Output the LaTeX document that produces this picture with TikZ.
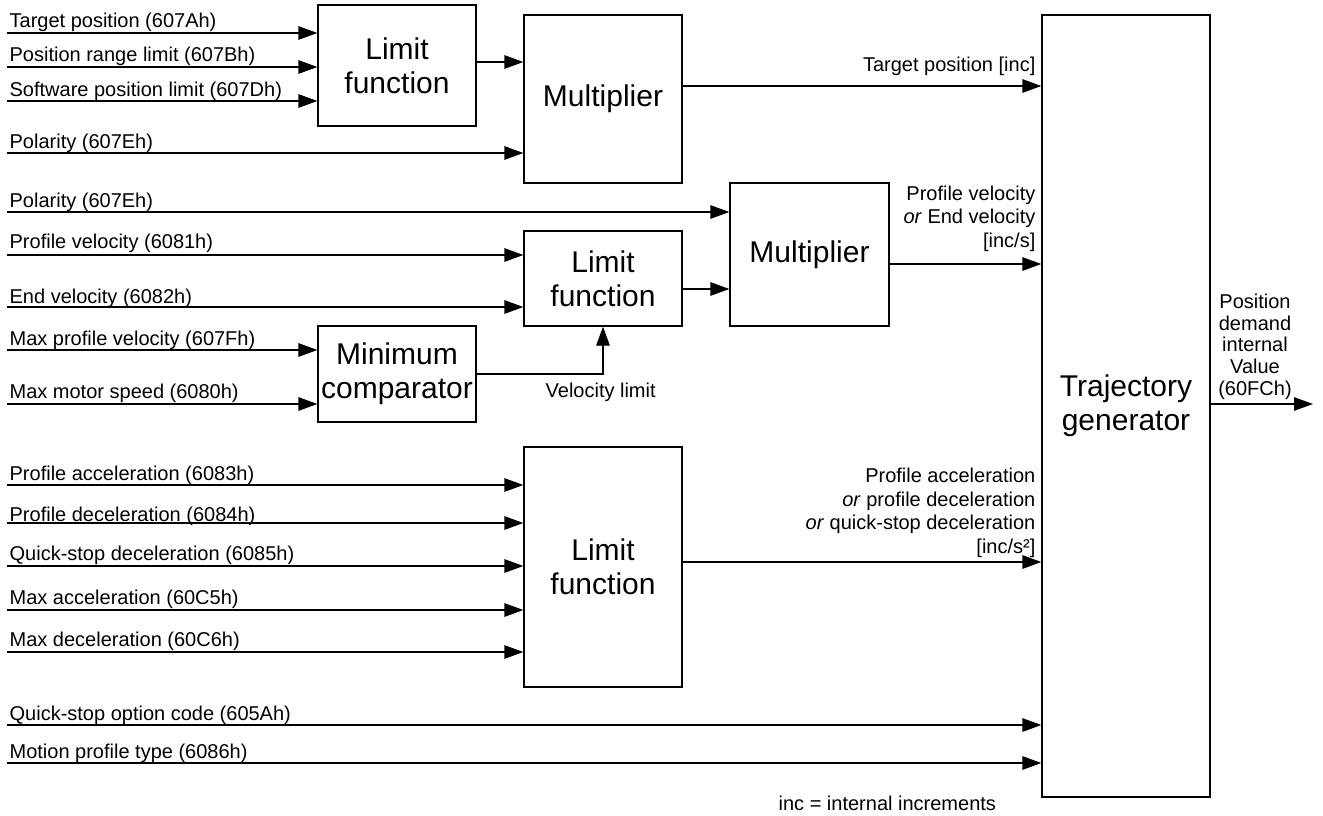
\documentclass[tikz,border=0pt]{standalone}
\usepackage{fontspec}
\setmainfont{Liberation Sans}
\usetikzlibrary{arrows.meta}
\begin{document}
\begin{tikzpicture}[x=1pt,y=-1pt,line width=1.3pt,
  arr/.style={-{Triangle[length=19pt,width=13.5pt]}},
  blk/.style={draw,line width=1.3pt,inner sep=0pt,align=center,font=\fontsize{30}{34}\selectfont},
  lbl/.style={inner sep=0pt,font=\fontsize{20}{23}\selectfont,anchor=base west},
  rlbl/.style={inner sep=0pt,font=\fontsize{20}{23.4}\selectfont,align=right,anchor=base east}]
\useasboundingbox (0,0) rectangle (1323,816);

% blocks
\node[blk,minimum width=158pt,minimum height=121pt] (lim1) at (397,65.5) {Limit\\function};
\node[blk,minimum width=158pt,minimum height=168pt] (mul1) at (603,99) {Multiplier};
\node[blk,minimum width=158pt,minimum height=95pt] (lim2) at (603,278.5) {Limit\\function};
\node[blk,minimum width=159pt,minimum height=143pt] (mul2) at (809.5,254.5) {Multiplier};
\node[blk,minimum width=158pt,minimum height=96pt] (minc) at (397,374) {Minimum\\comparator};
\node[blk,minimum width=158pt,minimum height=240pt] (lim3) at (603,567) {Limit\\function};
\node[blk,minimum width=168pt,minimum height=782pt] (traj) at (1126,406) {Trajectory\\generator};

% inputs to limit 1
\coordinate (i1) at (7,33);
\coordinate (i2) at (7,67);
\coordinate (i3) at (7,101);
\node[lbl] (t1) at (9,28) {Target position (607Ah)};
\node[lbl] (t2) at (9,62) {Position range limit (607Bh)};
\node[lbl] (t3) at (9,96) {Software position limit (607Dh)};
\draw[arr] (i1) -- (i1 -| lim1.west);
\draw[arr] (i2) -- (i2 -| lim1.west);
\draw[arr] (i3) -- (i3 -| lim1.west);

% limit1 -> multiplier1
\draw[arr] ([yshift=3.5pt]lim1.east) -- ([yshift=3.5pt]lim1.east -| mul1.west);
\coordinate (i4) at (7,153);
\node[lbl] (t4) at (9,148) {Polarity (607Eh)};
\draw[arr] (i4) -- (i4 -| mul1.west);

% multiplier1 -> trajectory
\draw[arr] ([yshift=13pt]mul1.east) -- ([yshift=13pt]mul1.east -| traj.west);
\node[rlbl] (o1) at (1036,72) {Target position [inc]};

% velocity path
\coordinate (i5) at (7,212);
\node[lbl] (t5) at (9,207) {Polarity (607Eh)};
\draw[arr] (i5) -- (i5 -| mul2.west);
\coordinate (i6) at (7,255);
\node[lbl] (t6) at (9,248) {Profile velocity (6081h)};
\draw[arr] (i6) -- (i6 -| lim2.west);
\coordinate (i7) at (7,307);
\node[lbl] (t7) at (9,303) {End velocity (6082h)};
\draw[arr] (i7) -- (i7 -| lim2.west);
\draw[arr] ([yshift=-10.5pt]lim2.east) -- ([yshift=-10.5pt]lim2.east -| mul2.west);
\draw[arr] ([yshift=-9.5pt]mul2.east) -- ([yshift=-9.5pt]mul2.east -| traj.west);
\node[rlbl] (o2) at (1036,247) {Profile velocity\\\textit{or} End velocity\\{[inc/s]}};

% minimum comparator
\coordinate (i8) at (7,350);
\node[lbl] (t8) at (9,345) {Max profile velocity (607Fh)};
\draw[arr] (i8) -- (i8 -| minc.west);
\coordinate (i9) at (7,404);
\node[lbl] (t9) at (9,398) {Max motor speed (6080h)};
\draw[arr] (i9) -- (i9 -| minc.west);
\draw[arr] (minc.east) -| (lim2.south);
\node[lbl] (vl) at (545,397) {Velocity limit};

% acceleration path
\coordinate (i10) at (7,485);
\node[lbl] (t10) at (9,480) {Profile acceleration (6083h)};
\draw[arr] (i10) -- (i10 -| lim3.west);
\coordinate (i11) at (7,523);
\node[lbl] (t11) at (9,521.5) {Profile deceleration (6084h)};
\draw[arr] (i11) -- (i11 -| lim3.west);
\coordinate (i12) at (7,566);
\node[lbl] (t12) at (9,560) {Quick-stop deceleration (6085h)};
\draw[arr] (i12) -- (i12 -| lim3.west);
\coordinate (i13) at (7,610);
\node[lbl] (t13) at (9,604) {Max acceleration (60C5h)};
\draw[arr] (i13) -- (i13 -| lim3.west);
\coordinate (i14) at (7,652);
\node[lbl] (t14) at (9,646.5) {Max deceleration (60C6h)};
\draw[arr] (i14) -- (i14 -| lim3.west);
\draw[arr] ([yshift=5pt]lim3.east) -- ([yshift=5pt]lim3.east -| traj.west);
\node[rlbl] (o3) at (1036,553) {Profile acceleration\\\textit{or} profile deceleration\\\textit{or} quick-stop deceleration\\{[inc/s²]}};

% direct inputs to trajectory
\coordinate (i15) at (7,725);
\node[lbl] (t15) at (9,720) {Quick-stop option code (605Ah)};
\draw[arr] (i15) -- (i15 -| traj.west);
\coordinate (i16) at (7,763);
\node[lbl] (t16) at (9,758) {Motion profile type (6086h)};
\draw[arr] (i16) -- (i16 -| traj.west);

% output
\coordinate (out) at (1313,404);
\draw[arr] (traj.east |- out) -- (out);
\node[inner sep=0pt,font=\fontsize{20}{21.6}\selectfont,align=center,anchor=base] (ol) at (1255,395) {Position\\demand\\internal\\Value\\(60FCh)};

\node[lbl] (note) at (778,810) {inc = internal increments};
\end{tikzpicture}
\end{document}
